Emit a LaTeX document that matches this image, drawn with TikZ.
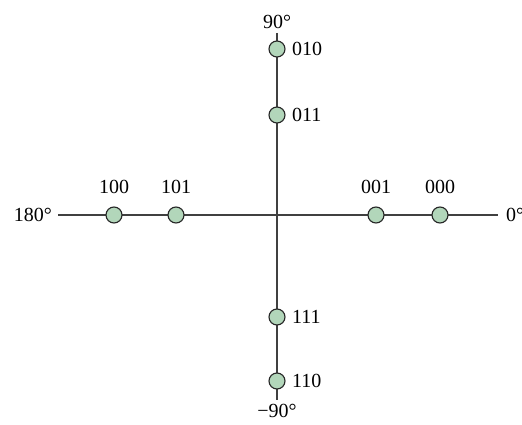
\documentclass[tikz,border=0pt]{standalone}
\usepackage{fontspec}
\setmainfont{Liberation Serif}
\begin{document}
\begin{tikzpicture}[x=1pt,y=-1pt,
  axis/.style={draw=black!75,line width=1.2pt},
  pt/.style={circle,draw=black!85,line width=1.1pt,fill=ptgreen,minimum size=16pt,inner sep=0pt},
  lbl/.style={font=\fontsize{20}{22}\selectfont,inner sep=0pt}]
\definecolor{ptgreen}{RGB}{178,214,186}
\useasboundingbox (0,0) rectangle (522,425);
% axis end coordinates
\coordinate (L) at (58,215);
\coordinate (R) at (498,215);
\coordinate (T) at (277,33);
\coordinate (B) at (277,400);
\draw[axis] (L) -- (R);
\draw[axis] (T) -- (B);
% axis labels
\node[lbl,anchor=east] (l180) at (52,215) {180°};
\node[lbl,anchor=west] (l0) at (506,215) {0°};
\node[lbl,anchor=south] (l90) at (277,29) {90°};
\node[lbl,anchor=north] (lm90) at (277,404) {−90°};
% points
\node[pt] (p100) at (114,215) {};
\node[pt] (p101) at (176,215) {};
\node[pt] (p001) at (376,215) {};
\node[pt] (p000) at (440,215) {};
\node[pt] (p010) at (277,49) {};
\node[pt] (p011) at (277,115) {};
\node[pt] (p111) at (277,317) {};
\node[pt] (p110) at (277,381) {};
% point labels
\node[lbl,anchor=south] (t100) at (114,194) {100};
\node[lbl,anchor=south] (t101) at (176,194) {101};
\node[lbl,anchor=south] (t001) at (376,194) {001};
\node[lbl,anchor=south] (t000) at (440,194) {000};
\node[lbl,anchor=west] (t010) at (292,49) {010};
\node[lbl,anchor=west] (t011) at (292,115) {011};
\node[lbl,anchor=west] (t111) at (292,317) {111};
\node[lbl,anchor=west] (t110) at (292,381) {110};
\end{tikzpicture}
\end{document}
